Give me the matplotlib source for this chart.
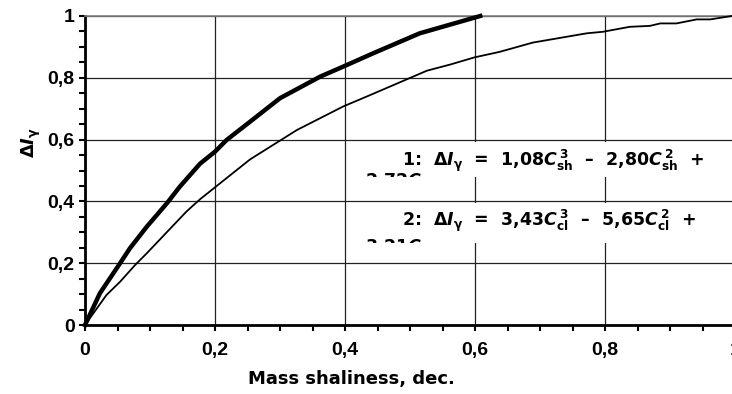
import matplotlib
matplotlib.use("Agg")
import matplotlib.pyplot as plt
from matplotlib.patches import Rectangle
from matplotlib.ticker import MultipleLocator, FuncFormatter

plt.rcParams['font.family'] = ['Liberation Sans', 'DejaVu Sans']
plt.rcParams['font.weight'] = 'bold'
plt.rcParams['mathtext.fontset'] = 'custom'
plt.rcParams['mathtext.rm'] = 'DejaVu Sans:bold'
plt.rcParams['mathtext.bf'] = 'DejaVu Sans:bold'
plt.rcParams['mathtext.it'] = 'DejaVu Sans:italic:bold'
plt.rcParams['mathtext.sf'] = 'DejaVu Sans'

# curve 1 (thick) - shale
c_sh = [0, 0.023, 0.054, 0.069, 0.095, 0.126, 0.146, 0.177, 0.20, 0.218,
        0.254, 0.30, 0.362, 0.397, 0.443, 0.515, 0.608]
di_sh = [0, 0.103, 0.20, 0.248, 0.318, 0.394, 0.448, 0.522, 0.561, 0.599,
         0.658, 0.734, 0.804, 0.836, 0.879, 0.944, 1.0]

# curve 2 (thin) - clay
c_cl = [0, 0.033, 0.054, 0.077, 0.095, 0.156, 0.177, 0.254, 0.326, 0.397, 0.433,
        0.526, 0.562, 0.599, 0.638, 0.689, 0.772, 0.797, 0.838, 0.869, 0.885,
        0.910, 0.941, 0.962, 0.995]
di_cl = [0, 0.097, 0.140, 0.194, 0.232, 0.367, 0.407, 0.536, 0.631, 0.707, 0.739,
         0.823, 0.843, 0.866, 0.884, 0.914, 0.944, 0.949, 0.965, 0.968, 0.976,
         0.976, 0.989, 0.989, 1.0]

eq1 = [r"$\mathit{1}$:  $\mathsf{\Delta}\mathit{I}_{\mathrm{\gamma}}$  =  1,08$\mathit{C}_{\mathrm{sh}}^{\,3}$  –  2,80$\mathit{C}_{\mathrm{sh}}^{\,2}$  +",
       r"2,72$\mathit{C}_{\mathrm{sh}}$"]
eq2 = [r"2:  $\mathsf{\Delta}\mathit{I}_{\mathrm{\gamma}}$  =  3,43$\mathit{C}_{\mathrm{cl}}^{\,3}$  –  5,65$\mathit{C}_{\mathrm{cl}}^{\,2}$  +",
       r"3,21$\mathit{C}_{\mathrm{cl}}$"]

fig = plt.figure(figsize=(7.32, 3.94), dpi=100)
ax = fig.add_axes([85/732, 1-325/394, 650/732, 309/394])

ax.set_xlim(0, 1)
ax.set_ylim(0, 1)
ax.xaxis.set_major_locator(MultipleLocator(0.2))
ax.yaxis.set_major_locator(MultipleLocator(0.2))
ax.xaxis.set_minor_locator(MultipleLocator(0.05))
ax.yaxis.set_minor_locator(MultipleLocator(0.05))
fmt = FuncFormatter(lambda v, p: ('%g' % round(v, 2)).replace('.', ','))
ax.xaxis.set_major_formatter(fmt)
ax.yaxis.set_major_formatter(fmt)
ax.tick_params(which='both', direction='out', length=4, width=1.5, labelsize=14)
ax.tick_params(axis='x', pad=8)

ax.set_axisbelow(True)
ax.grid(True, which='major', color='#222222', lw=0.9)

ax.spines['right'].set_visible(False)
ax.spines['top'].set_color('#808080')
ax.spines['top'].set_linewidth(1.2)
ax.spines['left'].set_linewidth(2)
ax.spines['bottom'].set_linewidth(2)

ax.plot(c_sh, di_sh, 'k-', lw=3.2, zorder=3, clip_on=False)
ax.plot(c_cl, di_cl, 'k-', lw=1.3, zorder=3, clip_on=False)

# white text boxes that hide the grid, second line cut by the box
boxes = [(0.479, 0.592, eq1), (0.265, 0.395, eq2)]
for y0, y1, eq in boxes:
    r = Rectangle((0.415, y0), 0.6, y1 - y0, facecolor='white', edgecolor='none',
                  zorder=1.5, clip_on=False)
    ax.add_patch(r)
    ax.text((402 - 85) / 650, y1 - 0.076, eq[0], fontsize=12.5, ha='left',
            va='baseline', zorder=4, family='DejaVu Sans')
    t2 = ax.text((365 - 85) / 650, y0 - 0.03, eq[1], fontsize=12.5, ha='left',
                 va='baseline', zorder=4, family='DejaVu Sans', clip_on=True)
    t2.set_clip_path(r)

ax.set_xlabel('Mass shaliness, dec.', fontsize=13, fontweight='bold',
              family='DejaVu Sans')
ax.xaxis.set_label_coords(0.41, -0.145)
ax.set_ylabel(r'$\mathsf{\Delta}\mathit{I}_{\mathrm{\gamma}}$', fontsize=13)
ax.yaxis.set_label_coords(-0.064, 0.59)

fig.savefig('out.png', dpi=100)
